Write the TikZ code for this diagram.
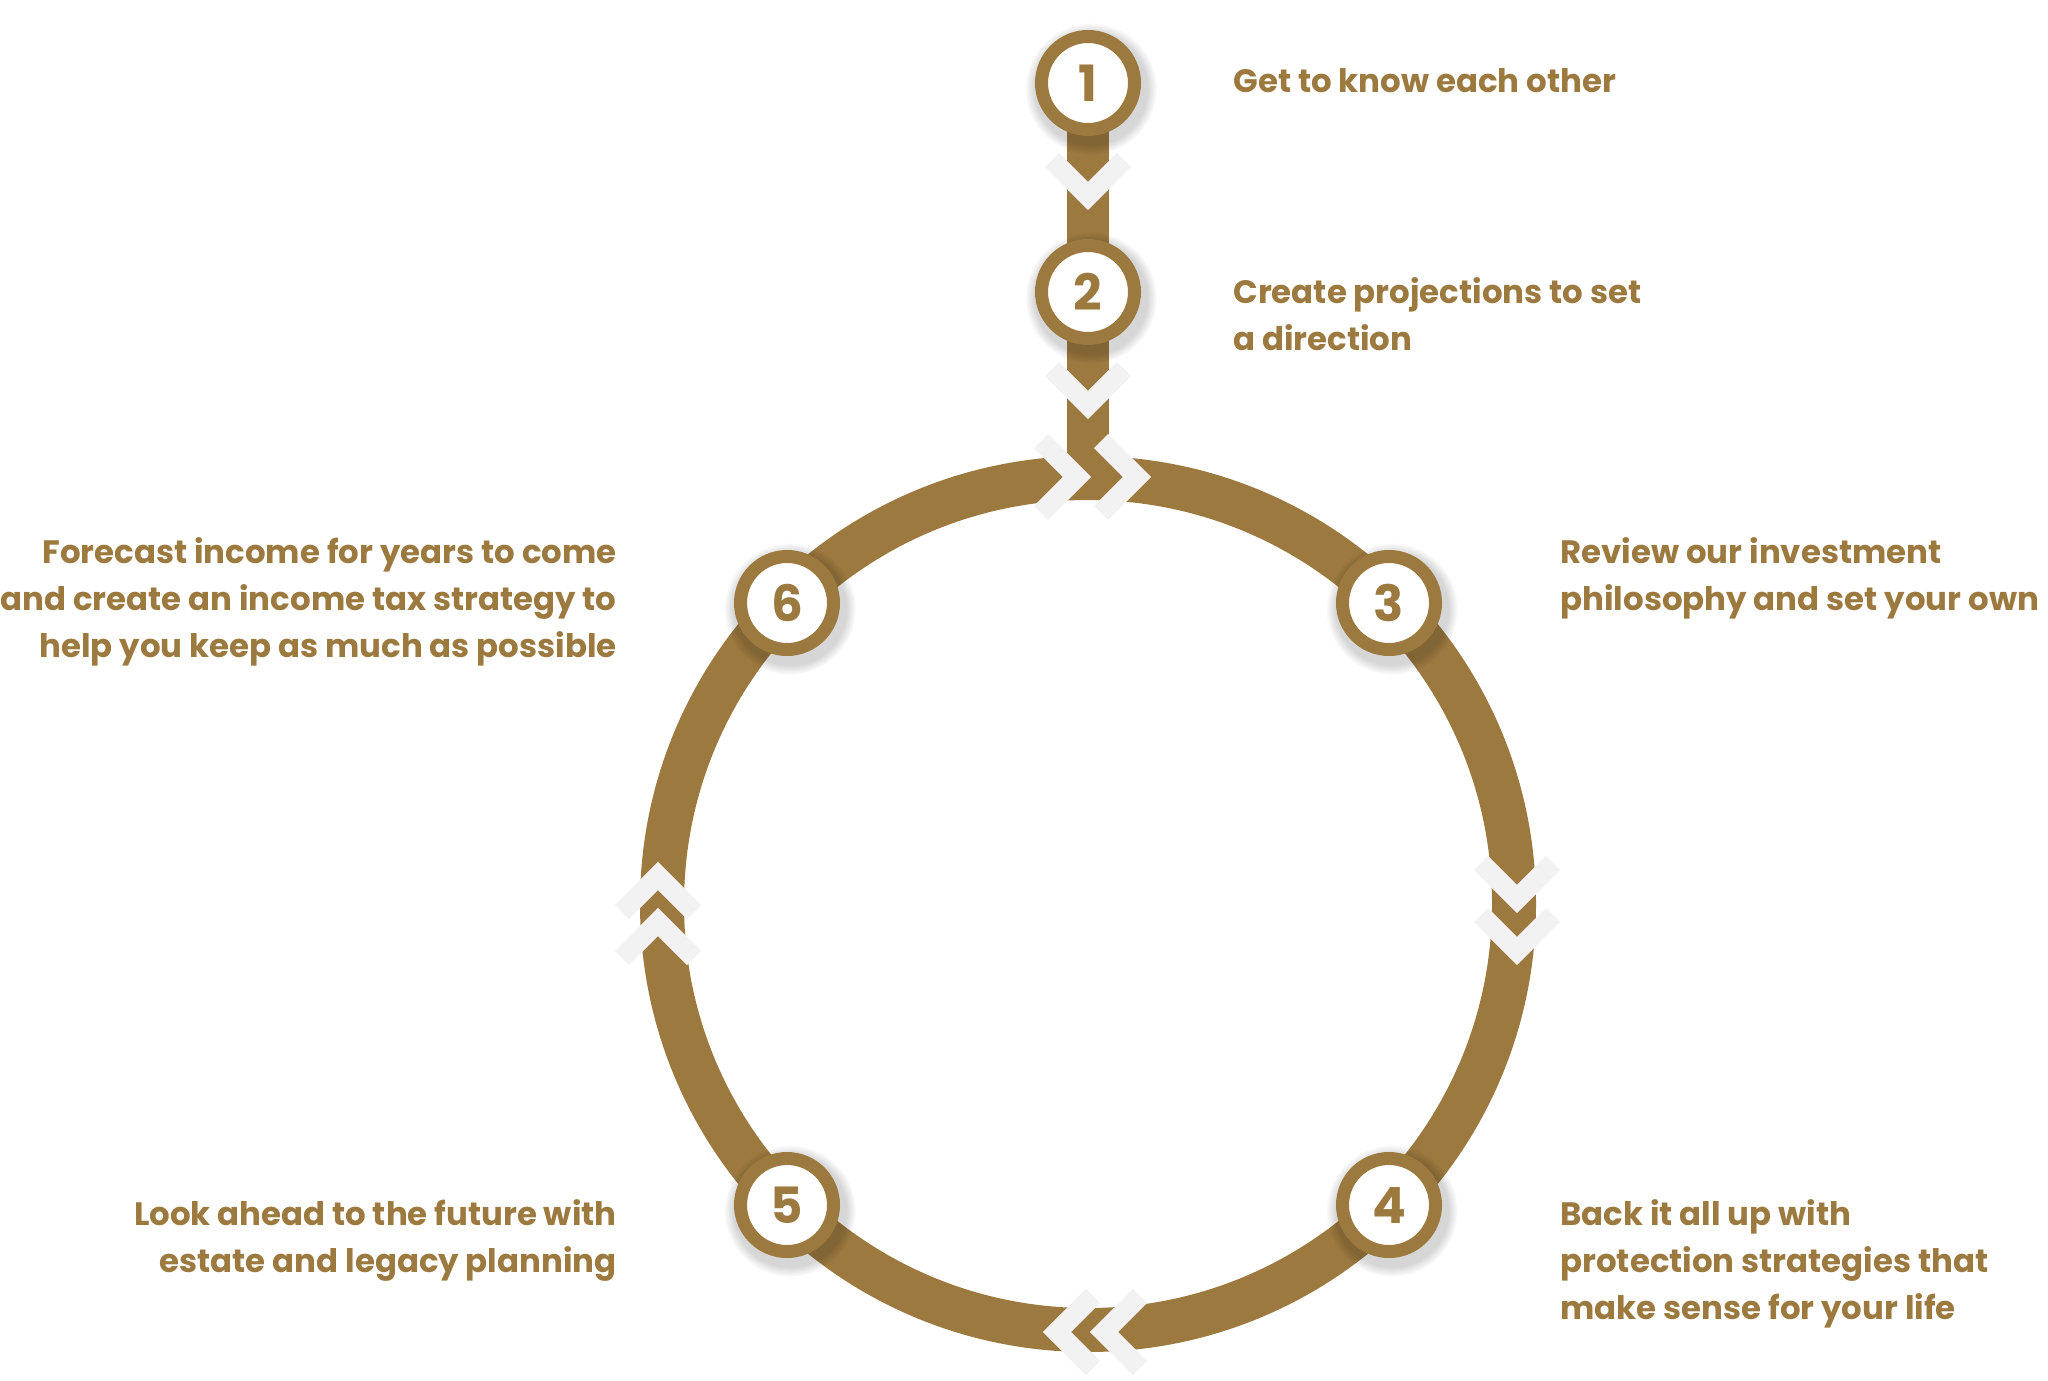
\documentclass[tikz,border=0pt]{standalone}
\usepackage{fontspec}
\setmainfont{Poppins}
\usetikzlibrary{shadows,backgrounds}
\definecolor{gdgold}{HTML}{9C793F}
\definecolor{gdchev}{HTML}{F2F2F2}

\begin{document}
\begin{tikzpicture}[x=0.5pt,y=-0.5pt,
    stepnode/.style={circle,draw=gdgold,line width=6.5pt,fill=white,minimum size=46.5pt,inner sep=0pt,
      font=\fontsize{25}{25}\selectfont\bfseries,text=gdgold,
      circular drop shadow={shadow xshift=1pt,shadow yshift=-2pt,shadow scale=1.42,fill=black,opacity=0.16}},
    lbl/.style={font=\fontsize{16.2}{23.5}\selectfont\bfseries,text=gdgold,inner sep=0pt},
    band/.style={draw=gdgold,line width=22pt},
    stem/.style={draw=gdgold,line width=21pt},
    chev/.style={draw=gdchev,line width=10pt,line join=miter}]
  \useasboundingbox (0,0) rectangle (2048,1380);
  \coordinate (c) at (1088,904);
  \coordinate (top) at (1088,478);
  % steps
  \node[stepnode] (n1) at (1088,83) {1};
  \node[stepnode] (n2) at (1088,292) {2};
  \node[stepnode] (n3) at (1389,603) {3};
  \node[stepnode] (n4) at (1389,1205) {4};
  \node[stepnode] (n5) at (787,1205) {5};
  \node[stepnode] (n6) at (787,603) {6};
  % ring, stem and chevrons behind the steps
  \begin{scope}[on background layer]
    \draw[band] (c) circle[radius=426];
    \draw[stem] (n1.center) -- (top);
    \foreach \x/\y/\dx/\dy in {1088/196/0/1, 1088/405/0/1, 1077/477/1/0, 1137/477/1/0,
        1517/899/0/1, 1517/951/0/1, 1104/1332/-1/0, 1057/1332/-1/0, 658/922/0/-1, 658/876/0/-1}
      \draw[chev] ({\x-36*\dx-36*\dy},{\y-36*\dy+36*\dx}) -- (\x,\y) -- ({\x-36*\dx+36*\dy},{\y-36*\dy-36*\dx});
  \end{scope}
  % labels (base = last line)
  \node[lbl,anchor=base west,align=left] (t1) at (1233,93) {Get to know each other};
  \node[lbl,anchor=base west,align=left] (t2) at (1233,350) {Create projections to set\\a direction};
  \node[lbl,anchor=base west,align=left] (t3) at (1560,610) {Review our investment\\philosophy and set your own};
  \node[lbl,anchor=base west,align=left] (t4) at (1560,1319) {Back it all up with\\protection strategies that\\make sense for your life};
  \node[lbl,anchor=base east,align=right] (t5) at (617,1272) {Look ahead to the future with\\estate and legacy planning};
  \node[lbl,anchor=base east,align=right] (t6) at (617,657) {Forecast income for years to come\\and create an income tax strategy to\\help you keep as much as possible};
\end{tikzpicture}
\end{document}
